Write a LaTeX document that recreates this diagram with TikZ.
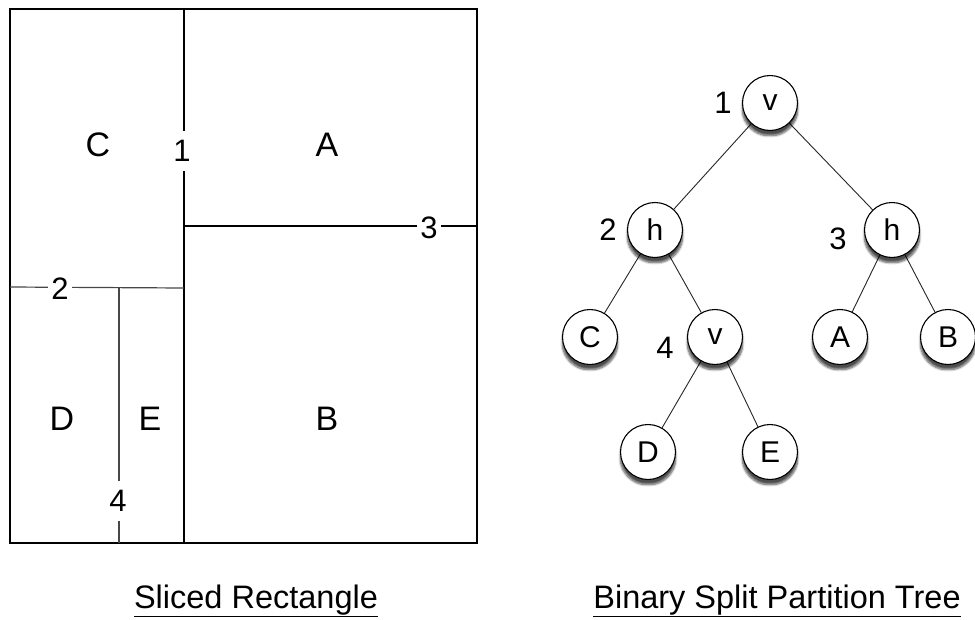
\documentclass[tikz,border=0pt]{standalone}
\usepackage{fontspec}
\setmainfont{Liberation Sans}
\usetikzlibrary{shadows.blur,backgrounds}
\begin{document}
\begin{tikzpicture}[x=1pt,y=-1pt,
  lbl/.style={font=\fontsize{34}{38}\selectfont, inner sep=0pt},
  numlbl/.style={font=\fontsize{31}{35}\selectfont, inner sep=0pt},
  vcut/.style={numlbl, fill=white, inner xsep=1pt, minimum height=40pt},
  hcut/.style={numlbl, fill=white, inner xsep=3pt, inner ysep=1pt},
  slice/.style={line width=1.2pt, black},
  subslice/.style={line width=1.2pt, black!72},
  tnode/.style={circle, draw=black, line width=1.1pt, fill=white, minimum size=55pt, inner sep=0pt,
    font=\fontsize{30}{34}\selectfont,
    blur shadow={shadow blur steps=8, shadow xshift=0pt, shadow yshift=-5pt, shadow opacity=70, shadow blur extra rounding=3pt}},
  tedge/.style={line width=0.9pt, black!85},
  ttl/.style={font=\fontsize{32.5}{36}\selectfont, inner sep=0pt, anchor=base}]
\useasboundingbox (0,0) rectangle (975,619);

% sliced rectangle
\coordinate (tl) at (10,9);
\coordinate (br) at (477,543);
\draw[slice] (tl) rectangle (br);
\coordinate (v1t) at (184,9);
\coordinate (v1b) at (184,543);
\coordinate (h3l) at (184,226);
\coordinate (h3r) at (477,226);
\coordinate (h2l) at (10,287);
\coordinate (h2r) at (184,288);
\coordinate (v4t) at (119,287);
\coordinate (v4b) at (119,543);
\draw[slice] (v1t) -- (v1b);
\draw[slice] (h3l) -- (h3r);
\draw[subslice] (h2l) -- (h2r);
\draw[subslice] (v4t) -- (v4b);
\node[vcut] (n1) at (182,151) {1};
\node[hcut] (n3) at (429,228) {3};
\node[hcut] (n2) at (60,289) {2};
\node[vcut] (n4) at (118,501) {4};
\node[lbl] (rC) at (98,145) {C};
\node[lbl] (rA) at (327,145) {A};
\node[lbl] (rD) at (62,419) {D};
\node[lbl] (rE) at (150,419) {E};
\node[lbl] (rB) at (327,419) {B};

% tree
\node[tnode] (t1) at (770,103) {v};
\node[tnode] (t2) at (655,230) {h};
\node[tnode] (t3) at (892,230) {h};
\node[tnode] (tC) at (590,337) {C};
\node[tnode] (t4) at (715,337) {v};
\node[tnode] (tA) at (840,337) {A};
\node[tnode] (tB) at (948,337) {B};
\node[tnode] (tD) at (648,452) {D};
\node[tnode] (tE) at (770,452) {E};
\begin{scope}[on background layer]
\draw[tedge] (t1) -- (t2);
\draw[tedge] (t1) -- (t3);
\draw[tedge] (t2) -- (tC);
\draw[tedge] (t2) -- (t4);
\draw[tedge] (t3) -- (tA);
\draw[tedge] (t3) -- (tB);
\draw[tedge] (t4) -- (tD);
\draw[tedge] (t4) -- (tE);
\end{scope}
\node[numlbl] (l1) at (723,103) {1};
\node[numlbl] (l2) at (608,230) {2};
\node[numlbl] (l3) at (838,239) {3};
\node[numlbl] (l4) at (665,348) {4};

% titles
\node[ttl] (ttlL) at (256,608) {\underline{Sliced Rectangle}};
\node[ttl] (ttlR) at (777,608) {\underline{Binary Split Partition Tree}};
\end{tikzpicture}
\end{document}
